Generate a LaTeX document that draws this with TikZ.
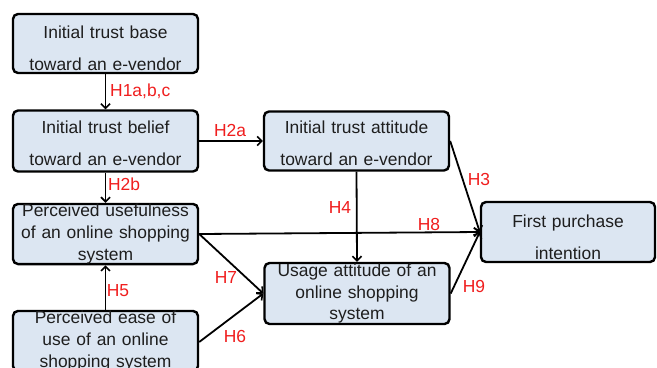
\documentclass[tikz,border=0pt]{standalone}
\usepackage{fontspec}
\setmainfont{Liberation Sans}
\usetikzlibrary{arrows.meta}
\definecolor{boxfill}{RGB}{220,230,242}
\definecolor{hypred}{RGB}{240,30,30}
\definecolor{boxtext}{RGB}{30,30,30}
% invisible strut that pushes the first line of a box a little lower
\newcommand\toppad[1]{\rule{0pt}{#1}}
\tikzset{
  box/.style={draw=black, line width=2.4bp, rounded corners=5bp, fill=boxfill,
    text=boxtext, inner sep=0pt, align=center, text width=#1,
    font=\fontsize{17.5}{32}\selectfont},
  box/.default=185bp,
  tallbox/.style={box=#1, font=\fontsize{17.5}{22}\selectfont},
  tallbox/.default=185bp,
  link/.style={line width=1.8bp, -{Straight Barb[length=4.5bp,width=9bp,line width=1.6bp]}},
  hyp/.style={text=hypred, inner sep=0pt, font=\fontsize{17.5}{20}\selectfont}
}
\begin{document}
\begin{tikzpicture}[x=1bp, y=-1bp]
  \useasboundingbox (0,0) rectangle (657,367);
  \clip (0,0) rectangle (657,367);
  \fill[white] (0,0) rectangle (657,367);

  % constructs
  \node[box, minimum height=59bp] (base)   at (105.5,43.5) {\toppad{23bp}Initial trust base\\toward an e-vendor};
  \node[box, minimum height=61bp] (belief) at (105.5,141)  {\toppad{17bp}Initial trust belief\\toward an e-vendor};
  \node[box, minimum height=59bp] (att)    at (356.5,141)  {\toppad{17bp}Initial trust attitude\\toward an e-vendor};
  \node[tallbox, minimum height=60bp] (pu)  at (105.5,234) {Perceived usefulness\\of an online shopping\\system};
  \node[tallbox, minimum height=60bp] (peou) at (105.5,341) {Perceived ease of\\use of an online\\shopping system};
  \node[tallbox, minimum height=61bp] (usage) at (357,293.5) {Usage attitude of an\\online shopping\\system};
  \node[box=174bp, minimum height=60bp] (fpi) at (568,232) {\toppad{23bp}First purchase\\intention};

  % hypothesised paths
  \draw[link] (base.south) -- (belief.north);
  \draw[link] (belief.east) -- (att.west);
  \draw[link] (belief.south) -- (pu.north);
  \draw[link] (peou.north) -- (pu.south);
  \draw[link] (att.south) -- (usage.north);
  \draw[link] (att.east) -- (fpi.west);
  \draw[link] (pu.east) -- (fpi.west);
  \draw[link] (pu.east) -- (usage.west);
  \draw[link] ([yshift=-1bp]peou.east) -- (usage.west);
  \draw[link] (usage.east) -- (fpi.west);

  % hypothesis labels
  \node[hyp, anchor=west] (h1) at (110,91) {H1a,b,c};
  \node[hyp] (h2a) at (230,130) {H2a};
  \node[hyp] (h2b) at (124,184) {H2b};
  \node[hyp] (h3)  at (479,179) {H3};
  \node[hyp] (h4)  at (340,207) {H4};
  \node[hyp] (h5)  at (118,291) {H5};
  \node[hyp] (h6)  at (235,336) {H6};
  \node[hyp] (h7)  at (226,277) {H7};
  \node[hyp] (h8)  at (429,224) {H8};
  \node[hyp] (h9)  at (474,286) {H9};
\end{tikzpicture}
\end{document}
